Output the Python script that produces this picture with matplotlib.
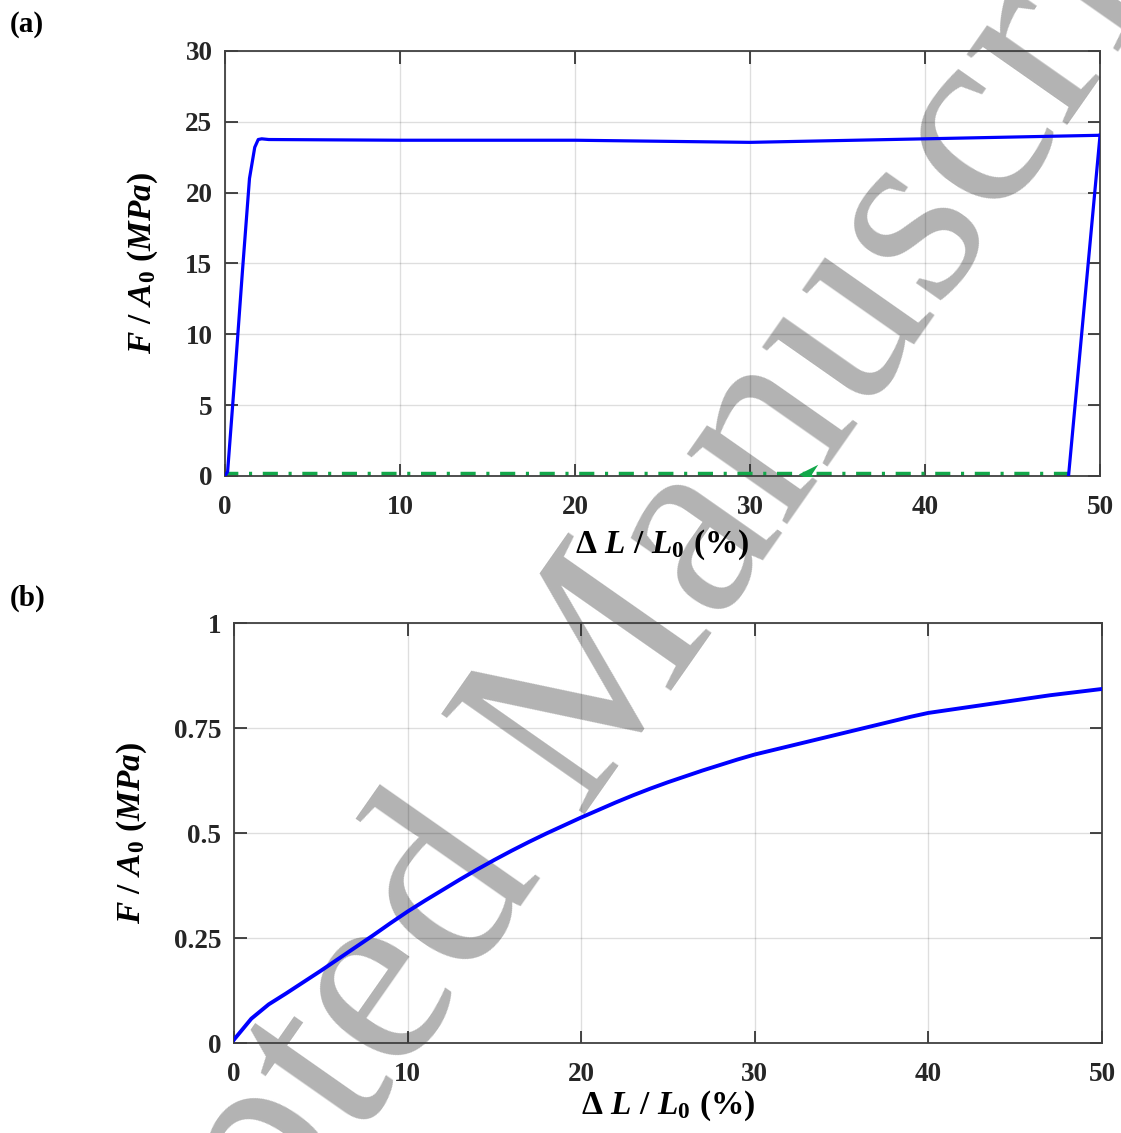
import matplotlib
matplotlib.use("Agg")
import matplotlib.pyplot as plt
from matplotlib.path import Path

plt.rcParams['font.family'] = ['Liberation Serif', 'DejaVu Serif']
plt.rcParams['font.weight'] = 'bold'
plt.rcParams['mathtext.fontset'] = 'custom'
plt.rcParams['mathtext.rm'] = 'Liberation Serif:bold'
plt.rcParams['mathtext.it'] = 'Liberation Serif:italic:bold'
plt.rcParams['mathtext.bf'] = 'Liberation Serif:bold'

# (a) loading / unloading cycle
load_x = [0, 0.15, 0.5, 1.0, 1.4, 1.7, 1.9, 2.1, 2.5, 10, 20, 30, 40, 50]
load_y = [0, 0.3, 6.0, 14.5, 21.0, 23.2, 23.75, 23.8, 23.75, 23.7, 23.7, 23.55, 23.8, 24.05]
unload_x = [50, 48.2]
unload_y = [24.05, 0]
return_x = [48.2, 0]
return_y = [0.12, 0.12]
arrow_x = 33.3
arrow_y = 0.12

# (b) monotonic curve
strain_b = list(range(0, 51))
stress_b = [0.008, 0.058, 0.092, 0.118, 0.145, 0.172, 0.200, 0.228, 0.256, 0.285,
            0.313, 0.339, 0.364, 0.389, 0.413, 0.436, 0.458, 0.479, 0.499, 0.518,
            0.537, 0.555, 0.573, 0.590, 0.606, 0.621, 0.635, 0.649, 0.662, 0.675,
            0.687, 0.697, 0.707, 0.717, 0.727, 0.737, 0.747, 0.757, 0.767, 0.777,
            0.786, 0.792, 0.798, 0.804, 0.810, 0.816, 0.822, 0.828, 0.833, 0.838,
            0.843]

ylabel = r'$\mathit{F\ /\ A_0\ (MPa)}$'
xlabel = r'$\Delta\ \mathit{L\ /\ L_0\ (\%)}$'
tick_fs = 19.5
label_fs = 24

fig = plt.figure(figsize=(11.21, 11.33), dpi=100)
ax1 = fig.add_axes([0.2007, 0.5799, 0.7806, 0.3751])
ax2 = fig.add_axes([0.2087, 0.0794, 0.7743, 0.3707])


def style(ax):
    ax.set_facecolor('none')
    ax.grid(True, color='k', alpha=0.13, linewidth=1)
    ax.set_axisbelow(True)
    ax.tick_params(direction='in', length=9, width=1.2, top=True, right=True,
                   labelsize=tick_fs, colors='#262626')
    ax.tick_params(axis='x', pad=14)
    ax.tick_params(axis='y', pad=9)
    for lab in ax.get_xticklabels() + ax.get_yticklabels():
        lab.set_fontweight('bold')
    for s in ax.spines.values():
        s.set_color('#404040')
        s.set_linewidth(1.3)


blue = '#0000ff'
green = '#12a84a'
ax1.plot(load_x, load_y, color=blue, lw=2.3, zorder=3)
ax1.plot(unload_x, unload_y, color=blue, lw=2.3, zorder=3)
ax1.plot(return_x, return_y, color=green, lw=3.2,
         linestyle=(0, (3.4, 2.4, 0.7, 2.4)), zorder=2)
stealth = Path([(-1, 0), (1, 1), (0.35, 0), (1, -1), (-1, 0)],
               [Path.MOVETO, Path.LINETO, Path.LINETO, Path.LINETO, Path.CLOSEPOLY])
ax1.plot([arrow_x], [arrow_y], marker=stealth, markersize=14, color=green,
         markeredgewidth=0, zorder=4)
ax1.set_xlim(0, 50)
ax1.set_ylim(0, 30)
ax1.set_xticks([0, 10, 20, 30, 40, 50])
ax1.set_yticks([0, 5, 10, 15, 20, 25, 30])
style(ax1)
ax1.set_xlabel(xlabel, fontsize=label_fs, labelpad=5)
ax1.set_ylabel(ylabel, fontsize=label_fs, labelpad=18)

ax2.plot(strain_b, stress_b, color=blue, lw=2.8, zorder=3)
ax2.set_xlim(0, 50)
ax2.set_ylim(0, 1)
ax2.set_xticks([0, 10, 20, 30, 40, 50])
ax2.set_yticks([0, 0.25, 0.5, 0.75, 1])
ax2.set_yticklabels(['0', '0.25', '0.5', '0.75', '1'])
style(ax2)
ax2.set_xlabel(xlabel, fontsize=label_fs, labelpad=1)
ax2.set_ylabel(ylabel, fontsize=label_fs, labelpad=18)

fig.text(0.009, 0.978, '(a)', fontsize=21, fontweight='bold', va='center')
fig.text(0.009, 0.472, '(b)', fontsize=21, fontweight='bold', va='center')

# watermark, drawn behind the axes content
fig.text(0.507, 0.36, 'Accepted Manuscript', fontsize=192, fontweight='normal',
         color='k', alpha=0.3, rotation=55, rotation_mode='anchor',
         ha='center', va='center', zorder=-1)

fig.savefig('out.png', dpi=100)
